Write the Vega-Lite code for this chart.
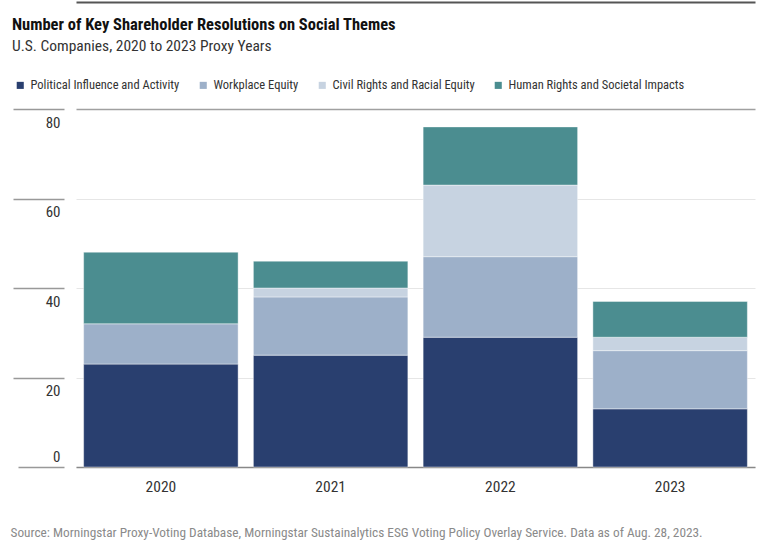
{
  "$schema": "https://vega.github.io/schema/vega-lite/v6.json",
  "width": 768,
  "height": 551,
  "autosize": {"type": "fit", "contains": "padding"},
  "padding": {"left": 10, "right": 13, "top": 2, "bottom": 12},
  "background": "#ffffff",
  "config": {
    "font": "Liberation Sans Narrow, Roboto Condensed, DejaVu Sans Condensed, Arial Narrow, sans-serif",
    "view": {"stroke": null}
  },
  "title": {
    "text": "Number of Key Shareholder Resolutions on Social Themes",
    "subtitle": "U.S. Companies, 2020 to 2023 Proxy Years",
    "anchor": "start",
    "frame": "bounds",
    "dx": 2,
    "fontSize": 16.5,
    "fontWeight": "bold",
    "color": "#111111",
    "subtitleFontSize": 15.5,
    "subtitleColor": "#333333",
    "subtitlePadding": 5,
    "offset": -52
  },
  "data": {
    "values": [
      {"year": "2020", "theme": "Political Influence and Activity", "ord": 1, "count": 23},
      {"year": "2020", "theme": "Workplace Equity", "ord": 2, "count": 9},
      {"year": "2020", "theme": "Human Rights and Societal Impacts", "ord": 4, "count": 16},
      {"year": "2021", "theme": "Political Influence and Activity", "ord": 1, "count": 25},
      {"year": "2021", "theme": "Workplace Equity", "ord": 2, "count": 13},
      {"year": "2021", "theme": "Civil Rights and Racial Equity", "ord": 3, "count": 2},
      {"year": "2021", "theme": "Human Rights and Societal Impacts", "ord": 4, "count": 6},
      {"year": "2022", "theme": "Political Influence and Activity", "ord": 1, "count": 29},
      {"year": "2022", "theme": "Workplace Equity", "ord": 2, "count": 18},
      {"year": "2022", "theme": "Civil Rights and Racial Equity", "ord": 3, "count": 16},
      {"year": "2022", "theme": "Human Rights and Societal Impacts", "ord": 4, "count": 13},
      {"year": "2023", "theme": "Political Influence and Activity", "ord": 1, "count": 13},
      {"year": "2023", "theme": "Workplace Equity", "ord": 2, "count": 13},
      {"year": "2023", "theme": "Civil Rights and Racial Equity", "ord": 3, "count": 3},
      {"year": "2023", "theme": "Human Rights and Societal Impacts", "ord": 4, "count": 8}
    ]
  },
  "layer": [
    {
      "mark": {"type": "bar", "stroke": "#ffffff", "strokeWidth": 0.7, "strokeOpacity": 0.6},
      "encoding": {
        "x": {
          "field": "year",
          "type": "nominal",
          "scale": {"paddingInner": 0.09, "paddingOuter": 0.045},
          "axis": {
            "title": "Source: Morningstar Proxy-Voting Database, Morningstar Sustainalytics ESG Voting Policy Overlay Service. Data as of Aug. 28, 2023.",
            "titleAnchor": "start",
            "titleAlign": "left",
            "titleBaseline": "alphabetic",
            "titleX": -66,
            "titleY": 69,
            "titleFontSize": 13.3,
            "titleFontWeight": "normal",
            "titleColor": "#8a8a8a",
            "titleLimit": 760,
            "labelAngle": 0,
            "labelFontSize": 15.5,
            "labelColor": "#333333",
            "labelPadding": 12,
            "ticks": false,
            "domain": true,
            "domainColor": "#888888",
            "domainWidth": 1.5
          }
        },
        "y": {
          "field": "count",
          "type": "quantitative",
          "stack": "zero",
          "scale": {"domain": [0, 80], "nice": false},
          "axis": {
            "title": null,
            "values": [0, 20, 40, 60, 80],
            "offset": 12,
            "domain": false,
            "tickSize": {"condition": {"test": "datum.value === 0", "value": 46}, "value": 51},
            "tickColor": "#999999",
            "tickWidth": 1.5,
            "labelAlign": "right",
            "labelBaseline": {"condition": {"test": "datum.value === 0", "value": "bottom"}, "value": "top"},
            "labelOffset": {"condition": {"test": "datum.value === 0", "value": -3}, "value": 6},
            "labelPadding": {"condition": {"test": "datum.value === 0", "value": -42}, "value": -47},
            "labelFontSize": 15,
            "labelColor": "#333333",
            "grid": true,
            "gridColor": {"condition": {"test": "datum.value === 80", "value": "#a0a0a0"}, "value": "#e6e6e6"},
            "gridWidth": {"condition": {"test": "datum.value === 80", "value": 1.5}, "value": 1}
          }
        },
        "color": {
          "field": "theme",
          "type": "nominal",
          "scale": {
            "domain": ["Political Influence and Activity", "Workplace Equity", "Civil Rights and Racial Equity", "Human Rights and Societal Impacts"],
            "range": ["#293f6f", "#9db0c9", "#c7d3e1", "#4b8d90"]
          },
          "legend": {
            "title": null,
            "orient": "none",
            "legendX": -62,
            "legendY": -30,
            "padding": 0,
            "direction": "horizontal",
            "symbolType": "square",
            "symbolSize": 50,
            "symbolStrokeWidth": 0,
            "labelFontSize": 12.5,
            "labelColor": "#333333",
            "labelOffset": 4,
            "labelLimit": 300,
            "columnPadding": 17
          }
        },
        "order": {"field": "ord", "type": "quantitative"}
      }
    },
    {
      "mark": {"type": "rule", "opacity": 0},
      "encoding": {
        "x": {
          "field": "year",
          "type": "nominal",
          "axis": {
            "orient": "top",
            "offset": 107,
            "title": null,
            "labels": false,
            "ticks": false,
            "grid": false,
            "domain": true,
            "domainColor": "#555555",
            "domainWidth": 2
          }
        }
      }
    }
  ],
  "resolve": {"axis": {"x": "independent"}}
}
